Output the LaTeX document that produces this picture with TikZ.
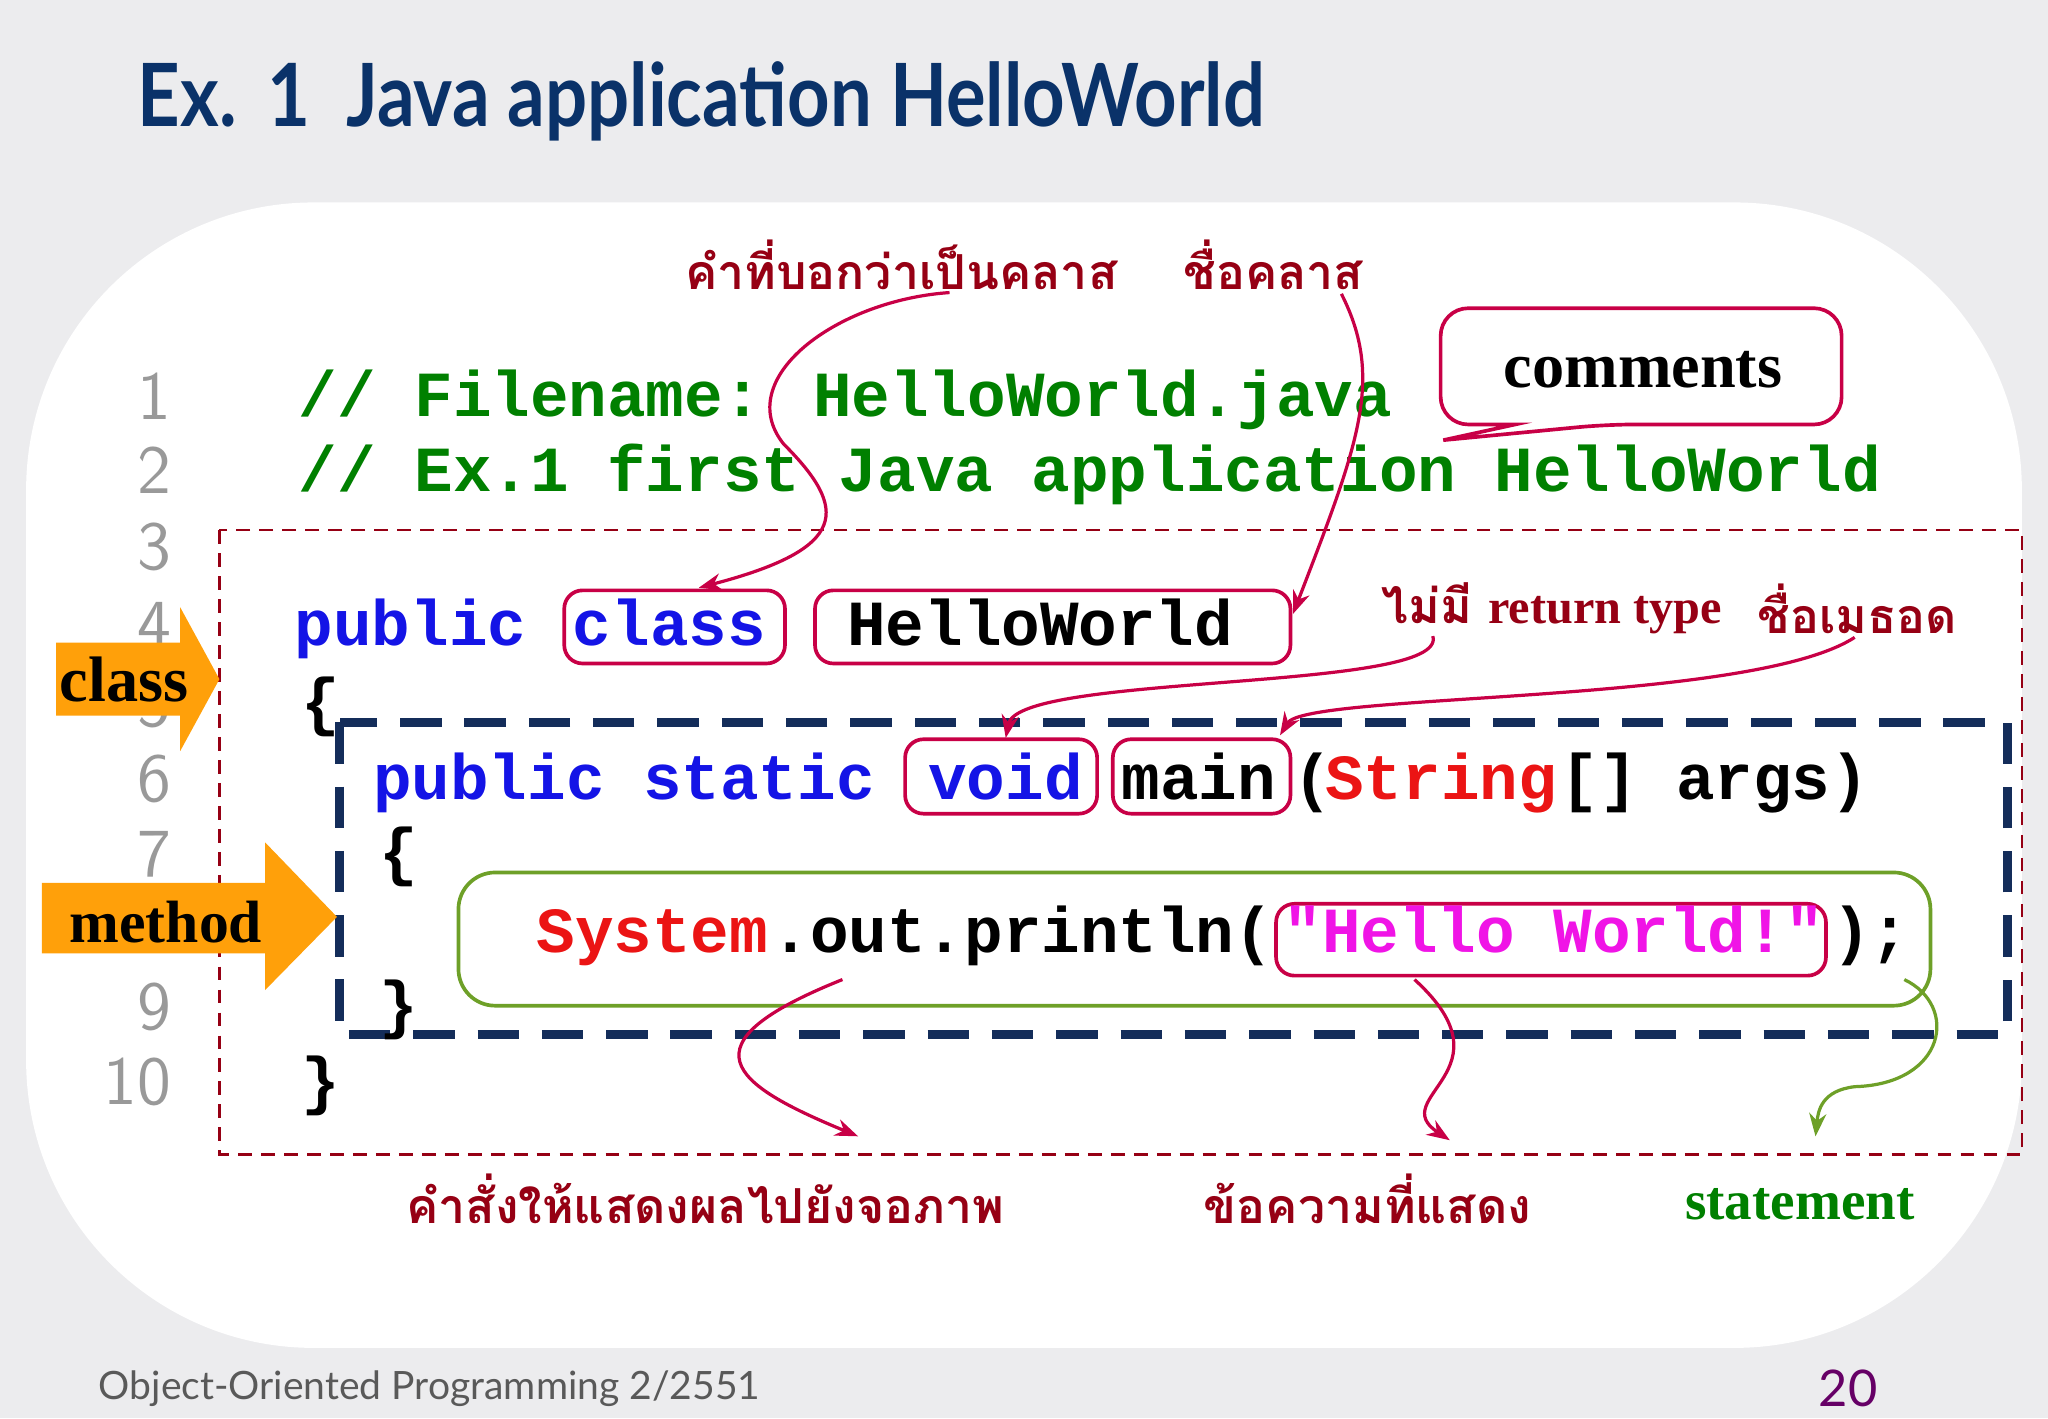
\documentclass[tikz,border=0pt]{standalone}
\usepackage{fontspec}
\newfontfamily\thai[Script=Thai]{Loma}
\newfontfamily\code{Liberation Mono}
\newfontfamily\titlef{Lato}
\setmainfont{Liberation Serif}
\usetikzlibrary{arrows.meta}
\definecolor{bgg}{RGB}{236,236,238}
\definecolor{ttl}{RGB}{10,50,105}
\definecolor{cg}{RGB}{0,128,0}
\definecolor{kb}{RGB}{20,20,230}
\definecolor{kr}{RGB}{235,20,20}
\definecolor{km}{RGB}{240,20,230}
\definecolor{dr}{RGB}{150,0,20}
\definecolor{bx}{RGB}{200,0,70}
\definecolor{gb}{RGB}{110,160,40}
\definecolor{nv}{RGB}{20,45,90}
\definecolor{org}{RGB}{255,160,10}
\begin{document}
\begin{tikzpicture}[x=0.01cm,y=-0.01cm,
 cd/.style={anchor=base west,inner sep=0,font=\code\bfseries\fontsize{14pt}{16pt}\selectfont},
 ln/.style={anchor=base east,inner sep=0,text=gray!80,font=\sffamily\fontsize{15pt}{17pt}\selectfont},
 th/.style={text=dr,font=\thai\bfseries\fontsize{10.5pt}{13pt}\selectfont,inner sep=0},
 rb/.style={draw=bx,rounded corners=4pt,line width=0.8pt},
 cv/.style={draw=bx,line width=0.7pt,-{Stealth[length=5pt]}},
 ar/.style={fill=org,draw=none}]
\useasboundingbox (0,0) rectangle (1568,1086);
\fill[bgg] (0,0) rectangle (1568,1086);
\fill[white,rounded corners=2.2cm] (20,155) rectangle (1548,1032);
\node[anchor=west,text=ttl,xscale=0.85,transform shape,font=\titlef\bfseries\fontsize{19pt}{22pt}\selectfont,inner sep=0] (title) at (105,78) {Ex.\ \,1 \ Java application HelloWorld};
% frames
\draw[dr,dashed,line width=0.5pt,dash pattern=on 3pt off 2pt] (168,406) rectangle (1548,884);
\draw[nv,line width=2pt,dash pattern=on 9pt off 5pt] (260,553) rectangle (1537,792);
\draw[gb,rounded corners=8pt,line width=0.8pt] (351,668) rectangle (1478,770);
\draw[rb] (432,452) rectangle (601,508);
\draw[rb] (624,452) rectangle (988,508);
\draw[rb] (693,566) rectangle (840,623);
\draw[rb] (852,566) rectangle (988,623);
\draw[rb] (977,692) rectangle (1398,747);
% line numbers
\foreach \n/\y in {1/305,2/362,3/420,4/480,5/540,6/598,7/655,9/772,10/830}
  \node[ln] (n\n) at (132,\y+16) {\n};
% code
\node[cd,text=cg] (l1) at (228,319) {// Filename: HelloWorld.java};
\node[cd,text=cg] (l2) at (228,376) {// Ex.1 first Java application HelloWorld};
\node[cd,text=kb] (l4a) at (225,494) {public};
\node[cd,text=kb] (l4b) at (438,494) {class};
\node[cd] (l4c) at (648,494) {HelloWorld};
\node[cd] (l5) at (230,554) {\{};
\node[cd,text=kb] (l6a) at (285,612) {public static};
\node[cd,text=kb] (l6b) at (710,612) {void};
\node[cd] (l6c) at (858,612) {main};
\node[cd] (l6d) at (990,612) {(};
\node[cd,text=kr] (l6e) at (1014,612) {String};
\node[cd] (l6f) at (1194,612) {[] args)};
\node[cd] (l7) at (290,669) {\{};
\node[cd,text=kr] (l8a) at (410,729) {System};
\node[cd] (l8b) at (590,729) {.out.println(};
\node[cd,text=km] (l8c) at (982,729) {"Hello World!"};
\node[cd] (l8d) at (1402,729) {);};
\node[cd] (l9) at (290,786) {\}};
\node[cd] (l10) at (230,844) {\}};
% orange arrows
\fill[ar] (43,492) -- (138,492) -- (138,465) -- (168,520) -- (138,575) -- (138,548) -- (43,548) -- cycle;
\node[font=\bfseries\fontsize{14pt}{17pt}\selectfont,inner sep=0] (cl) at (95,520) {class};
\fill[ar] (32,676) -- (203,676) -- (203,645) -- (258,702) -- (203,758) -- (203,730) -- (32,730) -- cycle;
\node[font=\bfseries\fontsize{13pt}{17pt}\selectfont,inner sep=0] (me) at (127,706) {method};
% comments
\draw[bx,line width=0.8pt,fill=white,rounded corners=6pt] (1103,236) -- (1410,236) -- (1410,325) -- (1230,325) [sharp corners]-- (1105,337) -- (1160,325) [rounded corners=6pt] -- (1103,325) -- cycle;
\node[font=\bfseries\fontsize{14pt}{17pt}\selectfont] (cm) at (1258,283) {comments};
% labels
\node[th] (t1) at (690,203) {คำที่บอกว่าเป็นคลาส};
\node[th] (t2) at (975,203) {ชื่อคลาส};
\node[th] (t3) at (1188,466) {ไม่มี \textrm{return type}};
\node[th] (t4) at (1422,466) {ชื่อเมธอด};
\node[th] (t5) at (540,918) {คำสั่งให้แสดงผลไปยังจอภาพ};
\node[th] (t6) at (1047,918) {ข้อความที่แสดง};
\node[text=cg,font=\bfseries\fontsize{12pt}{15pt}\selectfont,inner sep=0] (t7) at (1378,922) {statement};
\coordinate (c1) at (535,450);
\coordinate (c2) at (990,470);
\coordinate (c3) at (770,565);
\coordinate (c4) at (980,563);
\coordinate (c5) at (657,870);
\coordinate (c6) at (1110,873);
\coordinate (c7) at (1390,870);
\draw[cv] (727,224) .. controls (640,230) and (560,290) .. (600,340) .. controls (650,390) and (650,420) .. (c1);
\draw[cv] (1027,225) .. controls (1060,290) and (1040,340) .. (c2);
\draw[cv] (1097,487) .. controls (1110,530) and (780,515) .. (c3);
\draw[cv] (1420,488) .. controls (1340,540) and (1000,530) .. (c4);
\draw[cv] (645,750) .. controls (520,800) and (560,830) .. (c5);
\draw[cv] (1083,750) .. controls (1160,820) and (1060,840) .. (c6);
\draw[gb,line width=0.7pt,-{Stealth[length=5pt]}] (1458,750) .. controls (1500,770) and (1490,830) .. (1420,832) .. controls (1395,835) and (1392,850) .. (c7);
% footer
\node[anchor=west,text=gray!70!black,font=\fontspec{Lato}\fontsize{8.5pt}{10pt}\selectfont,inner sep=0] (ft) at (75,1063) {Object-Oriented Programming 2/2551};
\node[text=violet!80!black,font=\fontspec{Lato}\fontsize{11pt}{13pt}\selectfont,inner sep=0] (pg) at (1415,1063) {20};
\end{tikzpicture}
\end{document}
